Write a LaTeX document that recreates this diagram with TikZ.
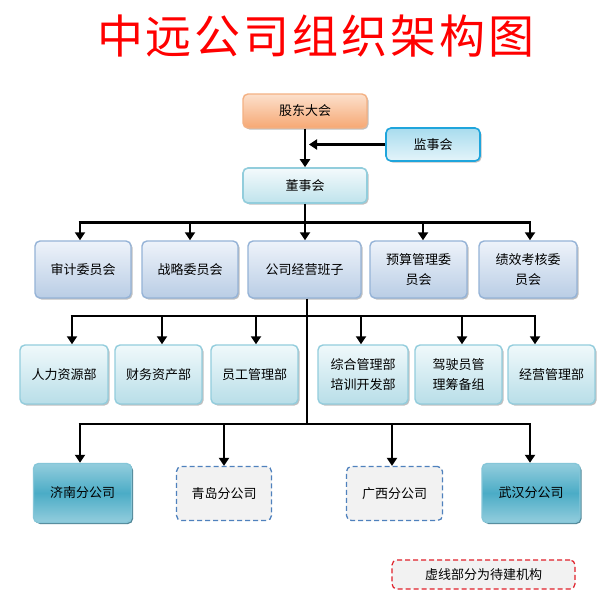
\documentclass[tikz,border=0pt]{standalone}
\usepackage{fontspec}
\setmainfont{Noto Sans CJK SC}
\usetikzlibrary{shadows,arrows.meta}
\definecolor{titlered}{HTML}{FF0000}
\definecolor{orgTop}{HTML}{FCE0CC}
\definecolor{orgBot}{HTML}{F6A874}
\definecolor{orgLine}{HTML}{F4B183}
\definecolor{jsTop}{HTML}{A8DCEE}
\definecolor{jsBot}{HTML}{E4F4FA}
\definecolor{jsLine}{HTML}{1FA5DC}
\definecolor{dsTop}{HTML}{F4FAFC}
\definecolor{dsBot}{HTML}{BFE3EC}
\definecolor{dsLine}{HTML}{92CDDC}
\definecolor{bTop}{HTML}{EEF3FA}
\definecolor{bBot}{HTML}{B9CDE5}
\definecolor{bLine}{HTML}{95B3D7}
\definecolor{cTop}{HTML}{F0F9FB}
\definecolor{cBot}{HTML}{B8DEE8}
\definecolor{cLine}{HTML}{93CDDD}
\definecolor{tMid}{HTML}{4BACC6}
\definecolor{tEdge}{HTML}{93CDDD}
\definecolor{tLine}{HTML}{31859C}
\definecolor{dashBlue}{HTML}{4F81BD}
\definecolor{greyFill}{HTML}{F2F2F2}
\definecolor{dashRed}{HTML}{E0202A}
\tikzset{
  x=1pt, y=-1pt,
  base/.style={rounded corners=5pt, inner sep=1pt, align=center,
    font=\fontsize{13}{20}\selectfont, text=black},
  shad/.style={drop shadow={shadow xshift=1.5pt, shadow yshift=-1.5pt, opacity=.35, fill=black!70}},
  orgbox/.style={base, shad, draw=orgLine, line width=1.4pt, top color=orgTop, bottom color=orgBot},
  jsbox/.style={base, shad, draw=jsLine, line width=1.6pt, top color=jsTop, bottom color=jsBot},
  dsbox/.style={base, shad, draw=dsLine, line width=1.6pt, top color=dsTop, bottom color=dsBot},
  bluebox/.style={base, shad, draw=bLine, line width=1.4pt, top color=bTop, bottom color=bBot},
  cyanbox/.style={base, shad, draw=cLine, line width=1.4pt, top color=cTop, bottom color=cBot},
  tealbox/.style={base, drop shadow={shadow xshift=1.5pt, shadow yshift=-1.5pt, opacity=.8, fill=tLine!80!black},
    draw=tEdge!80!tMid, line width=1.4pt, top color=tEdge, bottom color=tEdge, middle color=tMid},
  plannedbox/.style={base, draw=dashBlue, line width=1.3pt, dash pattern=on 5pt off 3pt, fill=greyFill},
  legendbox/.style={base, draw=dashRed, line width=1.2pt, dash pattern=on 5pt off 3pt, fill=greyFill},
  conn/.style={line width=2.8pt, black},
  arr/.style={conn, -{Triangle[length=8pt,width=10pt]}},
}
\begin{document}
\begin{tikzpicture}
\path[use as bounding box, fill=white] (0,0) rectangle (615,597);
% title
\node[text=titlered, font=\fontsize{46}{46}\selectfont, inner sep=0] (title) at (316,36)
  {中\hspace{3pt}远\hspace{3pt}公\hspace{3pt}司\hspace{3pt}组\hspace{3pt}织\hspace{3pt}架\hspace{3pt}构\hspace{3pt}图};
% top
\node[orgbox, minimum width=124pt, minimum height=34pt] (gd) at (305,111) {股东大会};
\node[jsbox, minimum width=94pt, minimum height=33pt] (js) at (433,144.5) {监事会};
\node[dsbox, minimum width=124pt, minimum height=35pt] (ds) at (305,185.5) {董事会};
\draw[arr] (gd.south) -- (ds.north);
\coordinate (jm) at (ds.north |- js.west);
\draw[arr] (js.west) -- ([xshift=4pt]jm);
% row 2
\node[bluebox, minimum width=96pt, minimum height=57pt] (sj) at (83,269.5) {审计委员会};
\node[bluebox, minimum width=96pt, minimum height=57pt] (zl) at (190,269.5) {战略委员会};
\node[bluebox, minimum width=113pt, minimum height=57pt] (gs) at (304.5,269.5) {公司经营班子};
\node[bluebox, minimum width=97pt, minimum height=57pt] (ys) at (418.5,269.5) {预算管理委\\员会};
\node[bluebox, minimum width=98pt, minimum height=57pt] (jx) at (528,269.5) {绩效考核委\\员会};
\coordinate (b1) at (305,222.5);
\draw[conn] (ds.south) -- (b1);
\coordinate (b1l) at ([xshift=-3pt]sj.north |- b1);
\coordinate (b1r) at ([xshift=2pt]jx.north |- b1);
\draw[conn, line cap=butt] ([xshift=-1.4pt]b1l) -- ([xshift=1.4pt]b1r);
\foreach \n/\d in {sj/-3,zl/0,gs/0.5,ys/4.5,jx/2}
  \draw[arr] ([xshift=\d pt]\n.north |- b1) -- ([xshift=\d pt]\n.north);
% row 3
\node[cyanbox, minimum width=88pt, minimum height=59pt] (rl) at (64,374.5) {人力资源部};
\node[cyanbox, minimum width=87pt, minimum height=59pt] (cw) at (158.5,374.5) {财务资产部};
\node[cyanbox, minimum width=87pt, minimum height=59pt] (yg) at (254.5,374.5) {员工管理部};
\node[cyanbox, minimum width=90pt, minimum height=59pt] (zh) at (363,374.5) {综合管理部\\培训开发部};
\node[cyanbox, minimum width=87pt, minimum height=59pt] (jsy) at (458.5,374.5) {驾驶员管\\理筹备组};
\node[cyanbox, minimum width=87pt, minimum height=59pt] (jy) at (551.5,374.5) {经营管理部};
\coordinate (b2) at (307,316);
\coordinate (b3) at (307,424);
\draw[conn] ([xshift=2.5pt]gs.south) -- (b3);
\coordinate (b2l) at ([xshift=8pt]rl.north |- b2);
\coordinate (b2r) at ([xshift=-16.5pt]jy.north |- b2);
\draw[conn, line cap=butt] ([xshift=-1.4pt]b2l) -- ([xshift=1.4pt]b2r);
\foreach \n/\d in {rl/8,cw/3.5,yg/1.5,zh/-2,jsy/3.5,jy/-16.5}
  \draw[arr] ([xshift=\d pt]\n.north |- b2) -- ([xshift=\d pt]\n.north);
% row 4
\node[tealbox, minimum width=98pt, minimum height=59pt] (jn) at (82.5,493) {济南分公司};
\node[plannedbox, minimum width=95pt, minimum height=54pt] (qd) at (224,493.5) {青岛分公司};
\node[plannedbox, minimum width=96pt, minimum height=54pt] (gx) at (394.5,493.5) {广西分公司};
\node[tealbox, minimum width=98pt, minimum height=59pt] (wh) at (531,493) {武汉分公司};
\coordinate (b3l) at ([xshift=-2.5pt]jn.north |- b3);
\coordinate (b3r) at ([xshift=-1pt]wh.north |- b3);
\draw[conn, line cap=butt] ([xshift=-1.4pt]b3l) -- ([xshift=1.4pt]b3r);
\foreach \n/\d in {jn/-2.5,qd/0,gx/-2.5,wh/-1}
  \draw[arr] ([xshift=\d pt]\n.north |- b3) -- ([xshift=\d pt]\n.north);
% legend
\node[legendbox, minimum width=183pt, minimum height=29pt] (lg) at (483.5,574.5) {虚线部分为待建机构};
\end{tikzpicture}
\end{document}
